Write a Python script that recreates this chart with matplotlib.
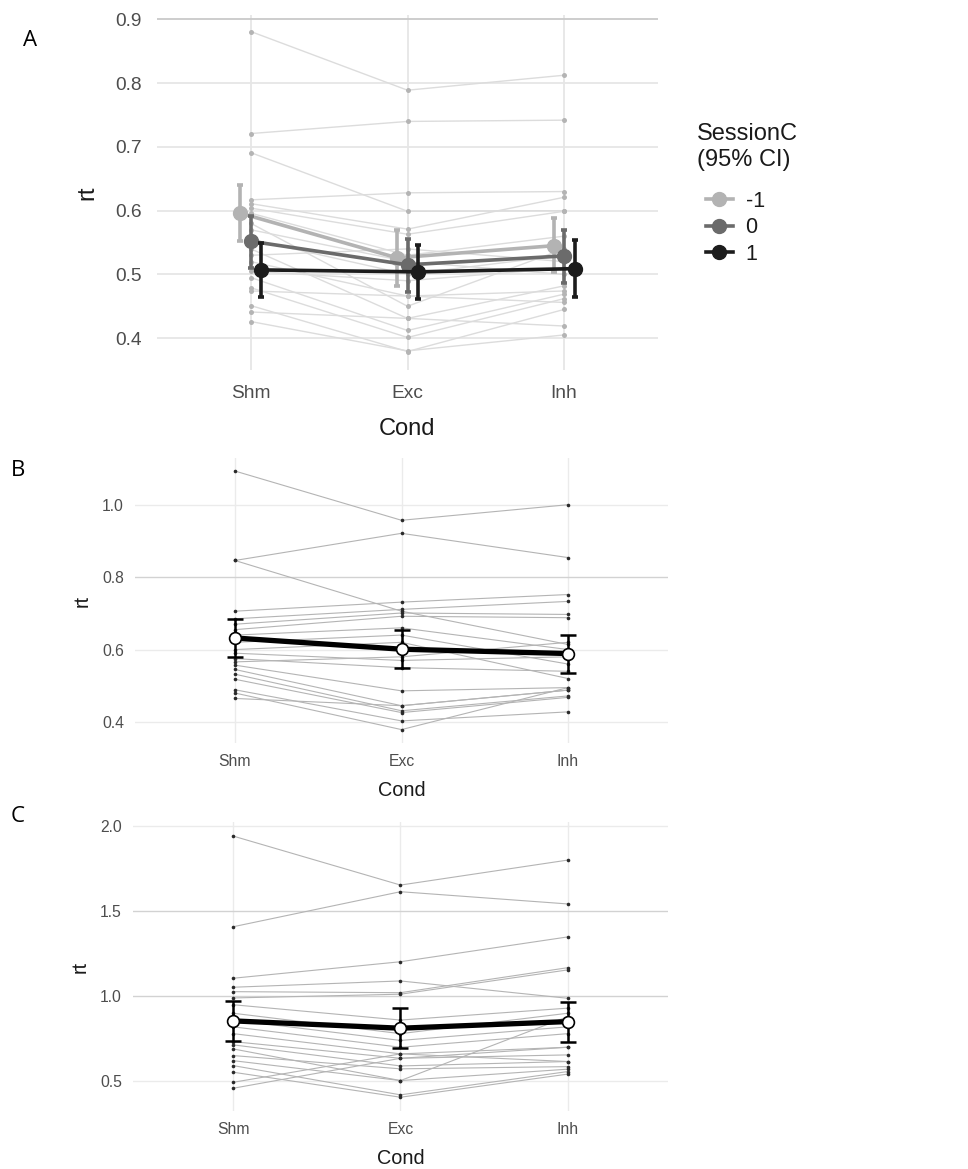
import numpy as np
import matplotlib
matplotlib.use("Agg")
from matplotlib import pyplot as plt
from matplotlib.lines import Line2D

conds = ["Shm", "Exc", "Inh"]

# panel A: per-subject rt (Shm, Exc, Inh)
a_shm = [0.881, 0.721, 0.691, 0.617, 0.611, 0.604, 0.596, 0.580, 0.570, 0.555,
         0.540, 0.520, 0.495, 0.479, 0.474, 0.451, 0.441, 0.426, 0.505, 0.530]
a_exc = [0.789, 0.740, 0.599, 0.628, 0.571, 0.563, 0.530, 0.450, 0.520, 0.500,
         0.431, 0.466, 0.412, 0.401, 0.466, 0.379, 0.431, 0.380, 0.490, 0.540]
a_inh = [0.8125, 0.742, 0.600, 0.630, 0.621, 0.599, 0.560, 0.540, 0.500, 0.530,
         0.482, 0.474, 0.469, 0.462, 0.456, 0.445, 0.419, 0.405, 0.510, 0.520]

# panel A: session estimates with 95% CI
sessions = ["-1", "0", "1"]
sess_colors = ["#b3b3b3", "#6b6b6b", "#1c1c1c"]
a_mean = [[0.596, 0.526, 0.545], [0.552, 0.515, 0.529], [0.507, 0.504, 0.509]]
a_low = [[0.552, 0.482, 0.503], [0.510, 0.473, 0.487], [0.464, 0.461, 0.465]]
a_high = [[0.641, 0.570, 0.589], [0.591, 0.556, 0.570], [0.550, 0.546, 0.554]]

# panel B
b_shm = [1.093, 0.846, 0.846, 0.706, 0.685, 0.670, 0.655, 0.640, 0.620, 0.600,
         0.566, 0.557, 0.545, 0.532, 0.518, 0.489, 0.480, 0.465, 0.575, 0.590]
b_exc = [0.957, 0.921, 0.706, 0.731, 0.711, 0.701, 0.692, 0.660, 0.640, 0.620,
         0.580, 0.486, 0.445, 0.431, 0.426, 0.403, 0.379, 0.445, 0.550, 0.570]
b_inh = [1.000, 0.854, 0.614, 0.752, 0.733, 0.697, 0.688, 0.600, 0.560, 0.520,
         0.620, 0.495, 0.488, 0.472, 0.468, 0.428, 0.495, 0.488, 0.540, 0.580]
b_mean = [0.632, 0.601, 0.589]
b_low = [0.579, 0.548, 0.535]
b_high = [0.685, 0.654, 0.641]

# panel C
c_shm = [1.942, 1.409, 1.106, 1.053, 1.027, 0.990, 0.950, 0.900, 0.860, 0.820,
         0.780, 0.733, 0.714, 0.651, 0.621, 0.592, 0.553, 0.494, 0.459, 0.690]
c_exc = [1.654, 1.615, 1.203, 1.090, 1.021, 1.012, 0.860, 0.780, 0.740, 0.700,
         0.661, 0.635, 0.590, 0.573, 0.504, 0.420, 0.406, 0.661, 0.635, 0.504]
c_inh = [1.801, 1.543, 1.349, 0.988, 1.168, 1.155, 0.930, 0.900, 0.820, 0.780,
         0.700, 0.655, 0.616, 0.586, 0.571, 0.557, 0.542, 0.616, 0.700, 0.880]
c_mean = [0.855, 0.812, 0.851]
c_low = [0.737, 0.698, 0.733]
c_high = [0.974, 0.929, 0.968]

W, H = 968, 1169
fig = plt.figure(figsize=(W / 100, H / 100), dpi=100)
TXT = "Liberation Sans"
x = np.arange(3)


def frame(ax, ylim, yticks, tsize, pad):
    ax.set_xlim(-0.6, 2.6)
    ax.set_ylim(*ylim)
    ax.set_yticks(yticks)
    ax.set_yticklabels([f"{t:.1f}" for t in yticks])
    ax.set_xticks(x)
    ax.set_xticklabels(conds)
    for s in ax.spines.values():
        s.set_visible(False)
    ax.tick_params(length=0, labelsize=tsize, labelcolor="#4d4d4d", pad=pad)
    for lab in ax.get_xticklabels() + ax.get_yticklabels():
        lab.set_family(TXT)
    ax.grid(True, color="#e6e6e6", lw=1.3)
    ax.set_axisbelow(True)


def subjects(ax, cols, lc, dc, ms, lw):
    for vals in zip(*cols):
        ax.plot(x, vals, color=lc, lw=lw, zorder=1)
        ax.plot(x, vals, ls="none", marker="o", ms=ms, color=dc, mec="none", zorder=2)


# ---- A
axA = fig.add_axes([157 / W, 1 - 370 / H, 501 / W, 355 / H])
frame(axA, (0.350, 0.907), np.arange(0.4, 0.95, 0.1), 13.8, 11)
axA.get_ygridlines()[-1].set_color("#c9c9c9")
subjects(axA, [a_shm, a_exc, a_inh], "#dcdcdc", "#b4b4b4", 3.6, 1.0)
dodge = [-0.067, 0.0, 0.067]
for k in range(3):
    xs = x + dodge[k]
    m = np.array(a_mean[k])
    err = [m - np.array(a_low[k]), np.array(a_high[k]) - m]
    axA.plot(xs, m, color=sess_colors[k], lw=2.6, zorder=3 + k)
    axA.errorbar(xs, m, yerr=err, fmt="o", color=sess_colors[k], ms=10,
                 elinewidth=2.6, capsize=2.5, capthick=2.6, zorder=3 + k)
axA.set_xlabel("Cond", fontsize=17, family=TXT, color="#1a1a1a")
axA.xaxis.set_label_coords(0.5, -0.166)
axA.xaxis.label.set_va("center")
axA.set_ylabel("rt", fontsize=17, family=TXT, color="#1a1a1a")
axA.yaxis.set_label_coords(-0.138, 0.5)
axA.yaxis.label.set_va("center")

# legend: title as text, keys as legend
fig.text(697 / W, 1 - 147 / H, "SessionC\n(95% CI)", fontsize=17, family=TXT,
         color="#1a1a1a", ha="left", va="center", linespacing=1.25)
handles = [Line2D([], [], color=c, lw=2.6, marker="o", ms=10) for c in sess_colors]
leg = fig.legend(handles, sessions, loc="upper left",
                 bbox_to_anchor=(695 / W, 1 - 180 / H), frameon=False,
                 borderpad=0, handlelength=1.25, handletextpad=0.6,
                 labelspacing=0.25, prop={"family": TXT, "size": 15.5})
for t in leg.get_texts():
    t.set_color("#1a1a1a")


def simple_panel(rect, cols, mean, low, high, ylim, yticks):
    ax = fig.add_axes(rect)
    frame(ax, ylim, yticks, 11.3, 8)
    ax.grid(True, color="#ebebeb", lw=1.0)
    subjects(ax, cols, "#b4b4b4", "#2a2a2a", 2.6, 0.8)
    m = np.array(mean)
    err = [m - np.array(low), np.array(high) - m]
    ax.plot(x, m, color="black", lw=3.8, zorder=5)
    ax.errorbar(x, m, yerr=err, fmt="none", ecolor="black", elinewidth=1.8,
                capsize=6, capthick=1.8, zorder=6)
    ax.plot(x, m, ls="none", marker="o", ms=8.5, mfc="white", mec="black",
            mew=1.2, zorder=7)
    ax.set_xlabel("Cond", fontsize=14.3, family=TXT, color="#1a1a1a")
    ax.xaxis.label.set_va("center")
    ax.set_ylabel("rt", fontsize=14.3, family=TXT, color="#1a1a1a")
    ax.yaxis.label.set_va("center")
    return ax


axB = simple_panel([135 / W, 1 - 743 / H, 533 / W, 285 / H],
                   [b_shm, b_exc, b_inh], b_mean, b_low, b_high,
                   (0.342, 1.129), [0.4, 0.6, 0.8, 1.0])
axB.xaxis.set_label_coords(0.5, -0.168)
axB.yaxis.set_label_coords(-0.099, 0.5)
axB.get_ygridlines()[2].set_color("#d2d2d2")

axC = simple_panel([133 / W, 1 - 1111 / H, 535 / W, 289 / H],
                   [c_shm, c_exc, c_inh], c_mean, c_low, c_high,
                   (0.325, 2.025), [0.5, 1.0, 1.5, 2.0])
axC.xaxis.set_label_coords(0.5, -0.163)
axC.yaxis.set_label_coords(-0.099, 0.5)
for g in axC.get_ygridlines()[1:3]:
    g.set_color("#d2d2d2")

for lab, (px, py) in zip("ABC", [(30, 40), (18, 471), (18, 817)]):
    fig.text(px / W, 1 - py / H, lab, fontsize=16, family="Open Sans",
             ha="center", va="center", color="black")

fig.savefig("out.png", dpi=100)
